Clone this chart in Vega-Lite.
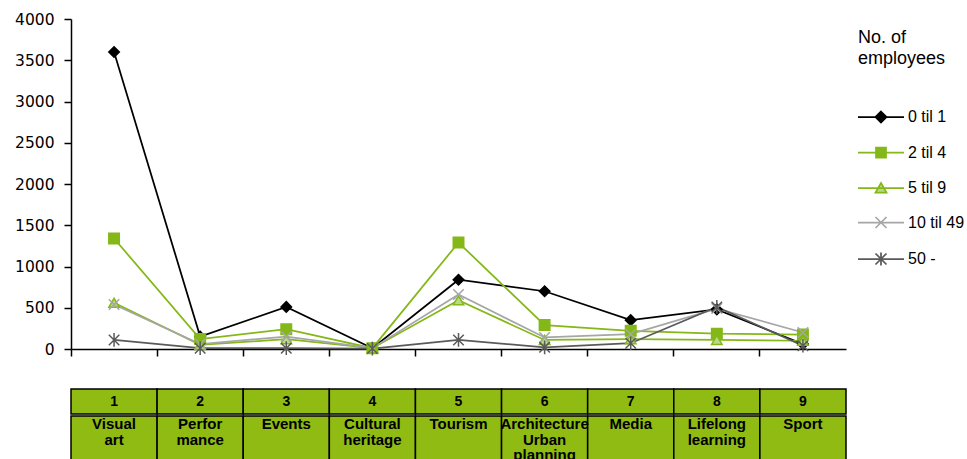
{
  "$schema": "https://vega.github.io/schema/vega-lite/v6.json",
  "padding": {"left": 14, "top": 12, "right": 0, "bottom": 0},
  "background": "white",
  "config": {"view": {"stroke": null}, "font": "Liberation Sans"},
  "datasets": {
    "table": [
      {"cat": 1, "name": "Visual\nart"},
      {"cat": 2, "name": "Perfor\nmance"},
      {"cat": 3, "name": "Events"},
      {"cat": 4, "name": "Cultural\nheritage"},
      {"cat": 5, "name": "Tourism"},
      {"cat": 6, "name": "Architecture\nUrban\nplanning"},
      {"cat": 7, "name": "Media"},
      {"cat": 8, "name": "Lifelong\nlearning"},
      {"cat": 9, "name": "Sport"}
    ],
    "series": [
      {"cat": 1, "series": "0 til 1", "value": 3600},
      {"cat": 2, "series": "0 til 1", "value": 150},
      {"cat": 3, "series": "0 til 1", "value": 510},
      {"cat": 4, "series": "0 til 1", "value": 10},
      {"cat": 5, "series": "0 til 1", "value": 840},
      {"cat": 6, "series": "0 til 1", "value": 700},
      {"cat": 7, "series": "0 til 1", "value": 350},
      {"cat": 8, "series": "0 til 1", "value": 480},
      {"cat": 9, "series": "0 til 1", "value": 60},
      {"cat": 1, "series": "2 til 4", "value": 1340},
      {"cat": 2, "series": "2 til 4", "value": 120},
      {"cat": 3, "series": "2 til 4", "value": 240},
      {"cat": 4, "series": "2 til 4", "value": 10},
      {"cat": 5, "series": "2 til 4", "value": 1290},
      {"cat": 6, "series": "2 til 4", "value": 290},
      {"cat": 7, "series": "2 til 4", "value": 220},
      {"cat": 8, "series": "2 til 4", "value": 185},
      {"cat": 9, "series": "2 til 4", "value": 175},
      {"cat": 1, "series": "5 til 9", "value": 560},
      {"cat": 2, "series": "5 til 9", "value": 50},
      {"cat": 3, "series": "5 til 9", "value": 120},
      {"cat": 4, "series": "5 til 9", "value": 10},
      {"cat": 5, "series": "5 til 9", "value": 590},
      {"cat": 6, "series": "5 til 9", "value": 110},
      {"cat": 7, "series": "5 til 9", "value": 120},
      {"cat": 8, "series": "5 til 9", "value": 110},
      {"cat": 9, "series": "5 til 9", "value": 100},
      {"cat": 1, "series": "10 til 49", "value": 540},
      {"cat": 2, "series": "10 til 49", "value": 60},
      {"cat": 3, "series": "10 til 49", "value": 150},
      {"cat": 4, "series": "10 til 49", "value": 10},
      {"cat": 5, "series": "10 til 49", "value": 660},
      {"cat": 6, "series": "10 til 49", "value": 140},
      {"cat": 7, "series": "10 til 49", "value": 180},
      {"cat": 8, "series": "10 til 49", "value": 490},
      {"cat": 9, "series": "10 til 49", "value": 200},
      {"cat": 1, "series": "50 -", "value": 110},
      {"cat": 2, "series": "50 -", "value": 10},
      {"cat": 3, "series": "50 -", "value": 10},
      {"cat": 4, "series": "50 -", "value": 5},
      {"cat": 5, "series": "50 -", "value": 110},
      {"cat": 6, "series": "50 -", "value": 20},
      {"cat": 7, "series": "50 -", "value": 70},
      {"cat": 8, "series": "50 -", "value": 510},
      {"cat": 9, "series": "50 -", "value": 40}
    ]
  },
  "spacing": 29,
  "vconcat": [
    {
      "width": 775,
      "height": 330,
      "data": {"name": "series"},
      "encoding": {
        "x": {
          "field": "cat", "type": "ordinal", "bandPosition": 0.5,
          "scale": {"type": "band", "paddingInner": 0, "paddingOuter": 0},
          "axis": {"title": null, "labels": false, "bandPosition": 0, "tickSize": 7, "tickColor": "black", "tickWidth": 1.5, "domainColor": "black", "domainWidth": 1.5, "grid": false}
        },
        "y": {
          "field": "value", "type": "quantitative",
          "scale": {"domain": [0, 4000]},
          "axis": {"title": null, "format": "d", "values": [0, 500, 1000, 1500, 2000, 2500, 3000, 3500, 4000], "grid": false, "tickSize": 7, "tickColor": "black", "tickWidth": 1.5, "domainColor": "black", "domainWidth": 1.5, "labelFont": "DejaVu Sans", "labelFontSize": 15.5, "labelColor": "black", "labelPadding": 10}
        },
        "stroke": {
          "field": "series", "type": "nominal",
          "scale": {"domain": ["0 til 1", "2 til 4", "5 til 9", "10 til 49", "50 -"], "range": ["#000000", "#84b818", "#84b818", "#a6a6a6", "#5a5a5a"]},
          "legend": {
            "title": ["No. of", "employees"],
            "titleFont": "Liberation Sans", "titleFontSize": 18, "titleFontWeight": "normal", "titleColor": "black", "titleLineHeight": 21, "titlePadding": 41,
            "labelFont": "Liberation Sans", "labelFontSize": 16, "labelColor": "black", "labelOffset": 34,
            "symbolSize": 100, "symbolStrokeWidth": 1.75, "rowPadding": 17.5,
            "offset": 1, "padding": 10,
            "encode": {
              "symbols": {
                "update": {
                  "shape": {"signal": "datum.value === '0 til 1' ? 'M-1.6,0H7.6M3,-1.1L4.1,0L3,1.1L1.9,0Z' : datum.value === '2 til 4' ? 'M-1.6,0H7.6M2,-1H4V1H2Z' : datum.value === '5 til 9' ? 'M-1.6,0H7.6M3,-1L4.1,0.9H1.9Z' : datum.value === '10 til 49' ? 'M-1.6,0H7.6M1.9,-1.1L4.1,1.1M4.1,-1.1L1.9,1.1' : 'M-1.6,0H7.6M1.9,-1.1L4.1,1.1M4.1,-1.1L1.9,1.1M3,-1.3V1.3'"},
                  "fill": {"signal": "datum.value === '0 til 1' ? '#000000' : datum.value === '2 til 4' ? '#84b818' : datum.value === '5 til 9' ? '#b9d98c' : 'transparent'"},
                  "strokeWidth": {"value": 1.75},
                  "opacity": {"value": 1}
                }
              }
            }
          }
        }
      },
      "layer": [
        {"mark": {"type": "line", "strokeWidth": 1.75}},
        {
          "mark": {"type": "point", "size": 110, "strokeWidth": 1.5, "opacity": 1},
          "encoding": {
            "shape": {
              "field": "series", "type": "nominal", "legend": null,
              "scale": {"domain": ["50 -", "10 til 49", "5 til 9", "2 til 4", "0 til 1"], "range": ["M-1,-1L1,1M1,-1L-1,1M0,-1.3V1.3", "M-1,-1L1,1M1,-1L-1,1", "triangle-up", "square", "diamond"]}
            },
            "fill": {
              "field": "series", "type": "nominal", "legend": null,
              "scale": {"domain": ["2 til 4", "0 til 1", "5 til 9", "10 til 49", "50 -"], "range": ["#84b818", "#000000", "#b9d98c", "transparent", "transparent"]}
            }
          }
        }
      ]
    },
    {
      "spacing": 0,
      "vconcat": [
        {
          "width": 775,
          "height": 25,
          "data": {"name": "table"},
          "encoding": {
            "x": {"field": "cat", "type": "ordinal", "scale": {"type": "band", "paddingInner": 0, "paddingOuter": 0}, "axis": null}
          },
          "layer": [
            {"mark": {"type": "rect", "fill": "#8fbb12", "stroke": "black", "strokeWidth": 1.5}},
            {"mark": {"type": "text", "font": "Liberation Sans", "fontWeight": "bold", "fontSize": 14, "color": "black", "baseline": "middle"},
             "encoding": {"x": {"field": "cat", "type": "ordinal", "bandPosition": 0.5, "axis": null}, "text": {"field": "cat", "type": "nominal"}}}
          ]
        },
        {
          "width": 775,
          "height": 60,
          "data": {"name": "table"},
          "encoding": {
            "x": {"field": "cat", "type": "ordinal", "scale": {"type": "band", "paddingInner": 0, "paddingOuter": 0}, "axis": null}
          },
          "layer": [
            {"mark": {"type": "rect", "fill": "#8fbb12", "stroke": "black", "strokeWidth": 1.5}},
            {"mark": {"type": "text", "font": "Liberation Sans", "fontWeight": "bold", "fontSize": 15, "lineHeight": 15.5, "lineBreak": "\n", "color": "black", "baseline": "top", "dy": 1},
             "encoding": {
               "x": {"field": "cat", "type": "ordinal", "bandPosition": 0.5, "axis": null},
               "y": {"datum": "names", "type": "nominal", "bandPosition": 0, "scale": {"type": "band", "paddingInner": 0, "paddingOuter": 0}, "axis": null},
               "text": {"field": "name", "type": "nominal"}
             }}
          ]
        }
      ]
    }
  ]
}
